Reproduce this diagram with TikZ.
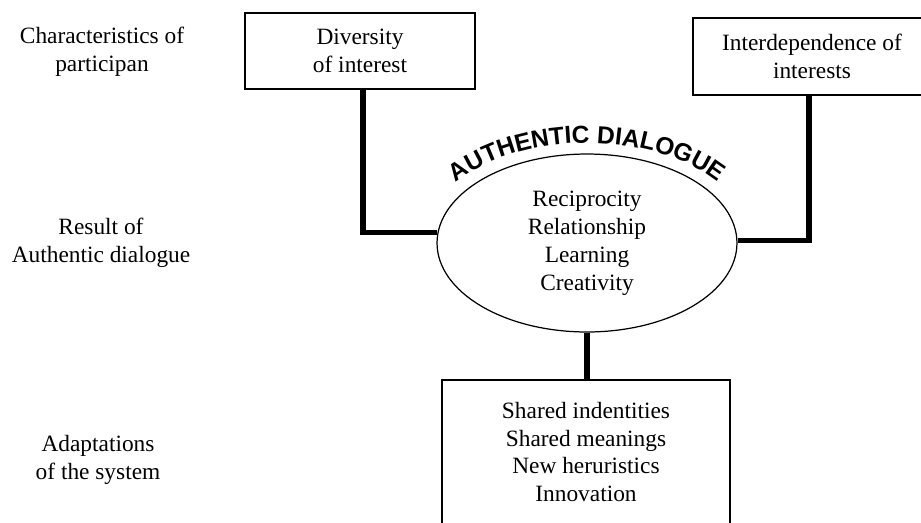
\documentclass[tikz,border=0pt]{standalone}
\usepackage{fontspec}
\setmainfont{Liberation Serif}
\newfontfamily\arcfont{Liberation Sans}
\usetikzlibrary{shapes.geometric,decorations.text}

\begin{document}
\begin{tikzpicture}[x=0.02cm, y=-0.02cm,
    every node/.style={font=\fontsize{13.3}{15.9}\selectfont, align=center},
    box/.style={draw, line width=0.85pt, inner sep=0pt},
    link/.style={line width=3.2pt}]
        \useasboundingbox (0,0) rectangle (921,522);

        \node (lchar) at (102,52) {Characteristics of\\participan};
        \node (lres) at (101,243) {Result of\\Authentic dialogue};
        \node (ladapt) at (98,460) {Adaptations\\of the system};

        \node[box, minimum width=4.6cm, minimum height=1.52cm] (div) at (360,51) {Diversity\\of interest};
        \node[box, minimum width=4.76cm, minimum height=1.54cm] (inter) at (812,56.5) {Interdependence of\\interests};
        \node[ellipse, draw, line width=0.7pt, inner sep=0pt, minimum width=6cm, minimum height=3.56cm] (auth) at (587,243) {Reciprocity\\Relationship\\Learning\\Creativity};
        \node[box, minimum width=5.76cm, minimum height=2.88cm] (adapt) at (586,452) {Shared indentities\\Shared meanings\\New heruristics\\Innovation};

        \path[decorate, decoration={text along path, text align=center,
            text={|\arcfont\bfseries\fontsize{14}{17}\selectfont|AUTHENTIC DIALOGUE}}]
            (auth.center) ++(160:3.3cm and 2cm) arc[start angle=160, end angle=20, x radius=3.3cm, y radius=2cm];

        \coordinate (lbend) at (363,233);
        \coordinate (rbend) at (809,240);
        \draw[link] (div.south -| lbend) |- (auth.176);
        \draw[link] (inter.south -| rbend) |- (auth.1);
        \draw[link] (auth.south) -- (adapt.north -| auth.south);
    \end{tikzpicture}
\end{document}
